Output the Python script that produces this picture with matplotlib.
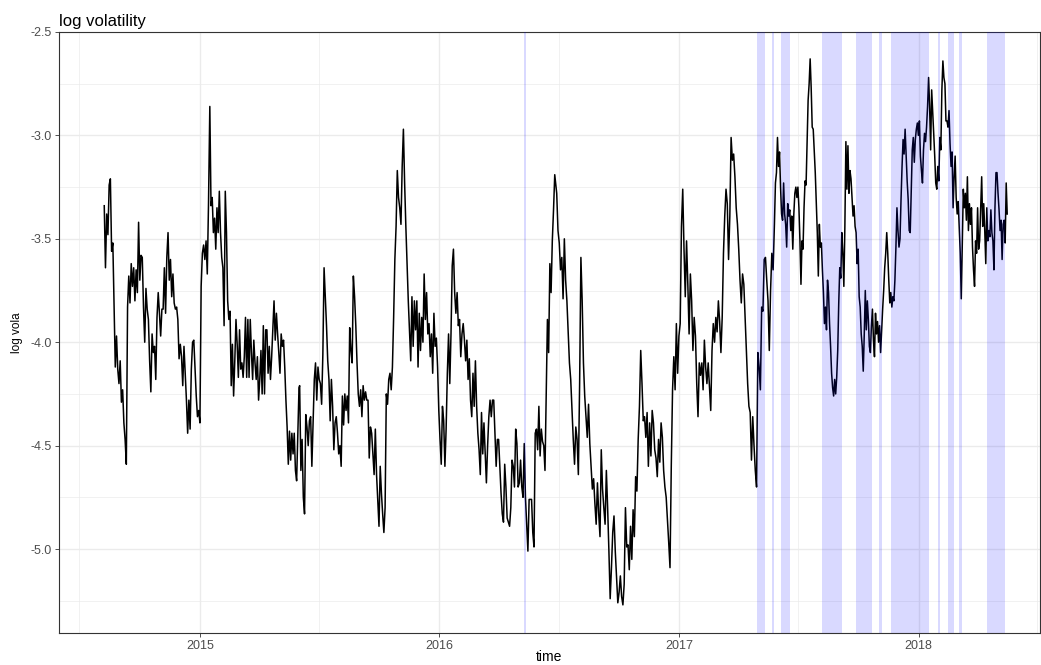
import numpy as np
import pandas as pd
import matplotlib
matplotlib.use('Agg')
import matplotlib.pyplot as plt
import matplotlib.dates as mdates

plt.rcParams['font.family'] = ['Liberation Sans', 'DejaVu Sans']
plt.rcParams['axes.unicode_minus'] = False

# log vola in five stretches (first date, last date, values)
span1 = ('2014-08-08', '2015-01-14')
vola1 = [-3.34, -3.64, -3.38, -3.48, -3.24, -3.21, -3.56, -3.52, -3.83, -4.12,
         -3.97, -4.13, -4.20, -4.09, -4.29, -4.23, -4.39, -4.47, -4.59, -3.83,
         -3.68, -3.81, -3.62, -3.73, -3.64, -3.80, -3.65, -3.76, -3.42, -3.70,
         -3.58, -3.59, -3.83, -4.00, -3.74, -3.84, -3.89, -4.09, -4.24, -3.96,
         -4.05, -4.02, -4.18, -3.88, -3.76, -3.86, -3.97, -3.84, -3.84, -3.64,
         -3.86, -3.59, -3.47, -3.70, -3.60, -3.78, -3.67, -3.81, -3.84, -3.83,
         -3.89, -4.08, -4.01, -4.07, -4.21, -4.02, -4.15, -4.28, -4.44, -4.28,
         -4.42, -4.13, -4.00, -3.99, -4.12, -4.26, -4.36, -4.33, -4.39, -3.73,
         -3.57, -3.53, -3.60, -3.51, -3.67, -3.33]

span2 = ('2015-01-16', '2015-06-01')
vola2 = [-2.86, -3.34, -3.30, -3.47, -3.40, -3.55, -3.35, -3.47, -3.27, -3.47,
         -3.59, -3.64, -3.92, -3.27, -3.47, -3.80, -3.89, -3.85, -4.21, -4.01,
         -4.26, -4.09, -3.89, -4.01, -4.17, -3.94, -4.13, -4.10, -4.17, -4.07,
         -3.88, -4.17, -3.89, -4.17, -3.89, -4.05, -4.18, -3.99, -4.10, -4.18,
         -4.07, -4.28, -4.18, -4.04, -4.25, -3.92, -4.25, -3.94, -3.94, -4.15,
         -4.02, -4.18, -4.07, -3.93, -3.80, -3.99, -3.86, -3.96, -4.05, -4.15,
         -3.96, -4.02, -3.99, -4.12, -4.28, -4.41, -4.59, -4.43, -4.57, -4.44,
         -4.54, -4.44, -4.62, -4.67, -4.44, -4.22]

span3 = ('2015-06-02', '2016-06-25')
vola3 = [-4.21, -4.62, -4.47, -4.75, -4.83, -4.35, -4.41, -4.50, -4.38, -4.36,
         -4.60, -4.38, -4.18, -4.10, -4.28, -4.12, -4.18, -4.20, -4.30, -4.06,
         -3.64, -3.78, -3.92, -4.09, -4.18, -4.38, -4.18, -4.31, -4.52, -4.39,
         -4.36, -4.44, -4.54, -4.50, -4.60, -4.26, -4.40, -4.25, -4.33, -4.26,
         -4.39, -3.93, -4.04, -4.10, -3.68, -3.78, -3.92, -4.10, -4.25, -4.31,
         -4.23, -4.36, -4.21, -4.28, -4.24, -4.28, -4.28, -4.56, -4.41, -4.44,
         -4.54, -4.64, -4.42, -4.64, -4.76, -4.89, -4.60, -4.73, -4.83, -4.92,
         -4.80, -4.25, -4.30, -4.18, -4.15, -4.23, -4.12, -3.88, -3.60, -3.44,
         -3.17, -3.30, -3.35, -3.43, -3.15, -2.97, -3.23, -3.44, -3.62, -3.80,
         -3.95, -4.09, -3.78, -4.02, -3.80, -3.94, -3.80, -4.12, -3.86, -4.04,
         -3.88, -4.00, -3.67, -3.89, -3.76, -3.96, -3.91, -4.07, -3.96, -4.15,
         -3.86, -4.02, -3.98, -4.12, -4.33, -4.47, -4.59, -4.31, -4.38, -4.60,
         -4.42, -4.15, -3.96, -4.20, -3.96, -3.63, -3.55, -3.76, -3.86, -3.76,
         -3.92, -3.89, -4.07, -3.96, -3.91, -3.99, -4.09, -3.99, -4.18, -4.08,
         -4.28, -4.36, -4.15, -4.31, -4.09, -4.31, -4.44, -4.52, -4.64, -4.34,
         -4.54, -4.39, -4.54, -4.68, -4.50, -4.36, -4.28, -4.36, -4.28, -4.28,
         -4.44, -4.60, -4.47, -4.47, -4.60, -4.73, -4.83, -4.87, -4.59, -4.70,
         -4.85, -4.87, -4.89, -4.80, -4.57, -4.60, -4.70, -4.42, -4.49, -4.70,
         -4.68, -4.57, -4.70, -4.75, -4.49, -4.75, -4.88, -5.01, -4.76, -4.76,
         -4.76, -4.92, -4.99, -4.44, -4.42, -4.52, -4.31, -4.55, -4.42, -4.48,
         -4.50, -4.62, -4.25, -3.89, -4.05, -3.62, -3.76, -3.51, -3.36, -3.19]

span4 = ('2016-06-28', '2017-05-24')
vola4 = [-3.28, -3.46, -3.52, -3.65, -3.59, -3.79, -3.50, -3.70, -3.80, -3.95,
         -4.10, -4.18, -4.33, -4.47, -4.59, -4.41, -4.47, -4.64, -4.20, -3.59,
         -3.80, -4.10, -4.26, -4.36, -4.46, -4.30, -4.49, -4.60, -4.71, -4.66,
         -4.78, -4.88, -4.68, -4.83, -4.94, -4.52, -4.71, -4.80, -4.88, -4.62,
         -4.80, -5.01, -5.24, -5.09, -4.92, -4.84, -5.01, -5.13, -5.26, -5.21,
         -5.13, -5.23, -5.27, -5.17, -4.80, -4.99, -4.98, -5.10, -4.89, -5.05,
         -4.81, -4.94, -4.65, -4.72, -4.47, -4.31, -4.04, -4.20, -4.38, -4.36,
         -4.46, -4.34, -4.60, -4.39, -4.55, -4.33, -4.39, -4.52, -4.56, -4.65,
         -4.47, -4.58, -4.39, -4.46, -4.62, -4.70, -4.75, -4.86, -4.97, -5.09,
         -4.60, -4.23, -4.07, -4.23, -3.91, -4.15, -3.97, -3.91, -3.44, -3.26,
         -3.55, -3.78, -3.51, -3.72, -3.96, -3.67, -3.80, -4.04, -3.88, -3.97,
         -4.20, -4.36, -4.10, -4.16, -4.10, -4.23, -3.99, -4.12, -4.20, -4.10,
         -4.22, -4.33, -4.04, -3.91, -4.00, -3.88, -3.95, -3.80, -3.90, -4.05,
         -3.88, -3.57, -3.39, -3.26, -3.33, -3.60, -3.39, -3.01, -3.12, -3.09,
         -3.20, -3.35, -3.43, -3.55, -3.70, -3.81, -3.67, -3.72, -3.88, -4.04,
         -4.20, -4.31, -4.34, -4.57, -4.36, -4.50, -4.62, -4.70, -4.05, -4.12,
         -4.23, -3.83, -3.85, -3.60, -3.59, -3.70, -3.80, -4.04, -3.75, -3.57,
         -3.65]

span5 = ('2017-05-26', '2018-05-16')
vola5 = [-3.43, -3.23, -3.18, -3.01, -3.15, -3.08, -3.25, -3.38, -3.41, -3.23,
         -3.38, -3.43, -3.54, -3.33, -3.39, -3.36, -3.46, -3.39, -3.55, -3.38,
         -3.28, -3.25, -3.30, -3.25, -3.35, -3.51, -3.72, -3.51, -3.55, -3.35,
         -3.22, -3.24, -3.03, -2.83, -2.75, -2.63, -2.77, -2.96, -2.97, -3.07,
         -3.18, -3.33, -3.47, -3.68, -3.43, -3.54, -3.52, -3.65, -3.76, -3.91,
         -3.83, -3.94, -3.70, -3.76, -3.91, -4.02, -4.15, -4.22, -4.26, -4.18,
         -4.25, -4.17, -4.04, -3.81, -3.64, -3.69, -3.47, -3.57, -3.73, -3.44,
         -3.03, -3.26, -3.05, -3.28, -3.17, -3.21, -3.30, -3.39, -3.34, -3.44,
         -3.47, -3.62, -3.55, -3.78, -3.83, -3.96, -4.02, -4.14, -3.96, -3.75,
         -3.94, -3.80, -3.89, -4.02, -4.05, -3.92, -3.84, -3.99, -4.07, -3.86,
         -3.96, -3.90, -4.00, -3.92, -4.05, -3.94, -3.84, -3.75, -3.64, -3.57,
         -3.47, -3.57, -3.70, -3.81, -3.76, -3.83, -3.78, -3.80, -3.70, -3.54,
         -3.35, -3.46, -3.54, -3.50, -3.31, -3.15, -3.02, -3.09, -2.97, -3.10,
         -3.22, -3.31, -3.46, -3.47, -3.26, -3.07, -3.01, -3.13, -3.02, -2.97,
         -2.94, -3.00, -2.93, -3.10, -3.17, -3.23, -3.07, -2.99, -3.03, -2.96,
         -2.86, -2.72, -2.86, -3.07, -2.78, -2.88, -2.99, -3.10, -3.23, -3.26,
         -3.15, -3.22, -3.01, -3.07, -2.78, -2.64, -2.72, -2.75, -2.93, -2.93,
         -2.96, -2.88, -3.04, -3.15, -3.08, -3.35, -3.20, -3.10, -3.30, -3.38,
         -3.32, -3.44, -3.57, -3.79, -3.51, -3.26, -3.35, -3.28, -3.41, -3.20,
         -3.46, -3.33, -3.43, -3.35, -3.54, -3.65, -3.73, -3.51, -3.57, -3.35,
         -3.55, -3.51, -3.35, -3.20, -3.44, -3.33, -3.46, -3.62, -3.35, -3.51,
         -3.46, -3.49, -3.36, -3.47, -3.51, -3.65, -3.35, -3.18, -3.18, -3.28,
         -3.36, -3.46, -3.41, -3.60, -3.43, -3.41, -3.52, -3.23, -3.38]

# shaded periods
hl_start = ['2016-05-09', '2017-04-30', '2017-05-23', '2017-06-05', '2017-08-07',
            '2017-09-28', '2017-11-02', '2017-11-20', '2018-01-30', '2018-02-15',
            '2018-03-03', '2018-04-15']
hl_end = ['2016-05-12', '2017-05-12', '2017-05-26', '2017-06-19', '2017-09-06',
          '2017-10-22', '2017-11-06', '2018-01-17', '2018-02-02', '2018-02-24',
          '2018-03-08', '2018-05-13']

parts = []
for (start, end), vals in [(span1, vola1), (span2, vola2), (span3, vola3),
                           (span4, vola4), (span5, vola5)]:
    idx = pd.date_range(start, end, periods=len(vals))
    parts.append(pd.Series(vals, index=idx))
vola = pd.concat(parts)

fig = plt.figure(figsize=(10.41, 6.65), dpi=100)
ax = fig.add_axes([59 / 1041, 1 - 633 / 665, 981 / 1041, 601 / 665])

ax.plot(vola.index, vola.values, color='black', lw=1.1, zorder=2)

for s, e in zip(hl_start, hl_end):
    ax.axvspan(pd.Timestamp(s), pd.Timestamp(e), color=(0, 0, 1), alpha=0.15,
               lw=0, zorder=3)

ax.set_xlim(pd.Timestamp('2014-05-31'), pd.Timestamp('2018-07-05'))
ax.set_ylim(-5.406, -2.5)

ax.set_yticks(np.arange(-5.0, -2.49, 0.5))
ax.set_yticks(np.arange(-5.25, -2.6, 0.5), minor=True)
ax.xaxis.set_major_locator(mdates.YearLocator())
ax.xaxis.set_major_formatter(mdates.DateFormatter('%Y'))
ax.xaxis.set_minor_locator(mdates.MonthLocator(bymonth=7))

ax.grid(which='major', color='#ebebeb', lw=1.0, zorder=0)
ax.grid(which='minor', color='#ebebeb', lw=0.5, zorder=0)
ax.set_axisbelow(True)

ax.tick_params(which='major', length=3, width=0.6, color='#333333',
               labelsize=9, labelcolor='#4d4d4d', pad=2)
ax.tick_params(which='minor', length=0)
for sp in ax.spines.values():
    sp.set_color('#333333')
    sp.set_linewidth(0.8)

ax.set_title('log volatility', loc='left', fontsize=12, pad=4)
ax.set_xlabel('time', fontsize=10)
ax.set_ylabel('log vola', fontsize=8.5)
ax.xaxis.set_label_coords(0.5, -0.028)
ax.yaxis.set_label_coords(-0.037, 0.5)

fig.savefig('out.png', dpi=100)
